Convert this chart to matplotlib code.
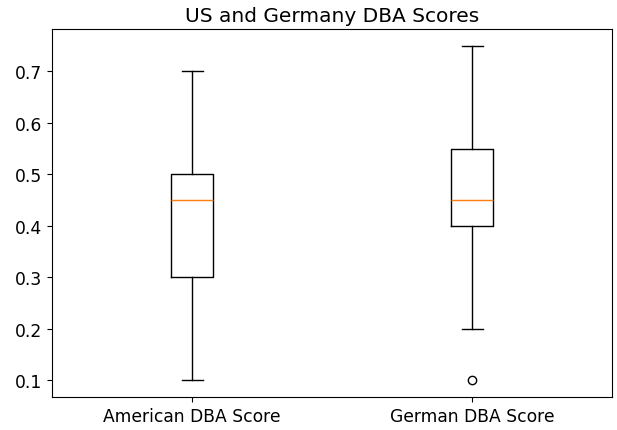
import matplotlib
matplotlib.use('Agg')
import matplotlib.pyplot as plt

labels = ['American DBA Score', 'German DBA Score']
whislo = [0.1, 0.2]
q1 = [0.3, 0.4]
med = [0.45, 0.45]
q3 = [0.5, 0.55]
whishi = [0.7, 0.75]
fliers = [[], [0.1]]

stats = []
for i in range(len(labels)):
    stats.append({'label': labels[i], 'whislo': whislo[i], 'q1': q1[i],
                  'med': med[i], 'q3': q3[i], 'whishi': whishi[i],
                  'fliers': fliers[i]})

fig = plt.figure(figsize=(6.17, 4.31), dpi=100)
ax = fig.add_axes([0.0843, 0.0766, 0.9076, 0.854])
ax.bxp(stats)
ax.set_title('US and Germany DBA Scores', fontsize=14.5)
ax.tick_params(labelsize=12.3)
fig.savefig('out.png', dpi=100)
